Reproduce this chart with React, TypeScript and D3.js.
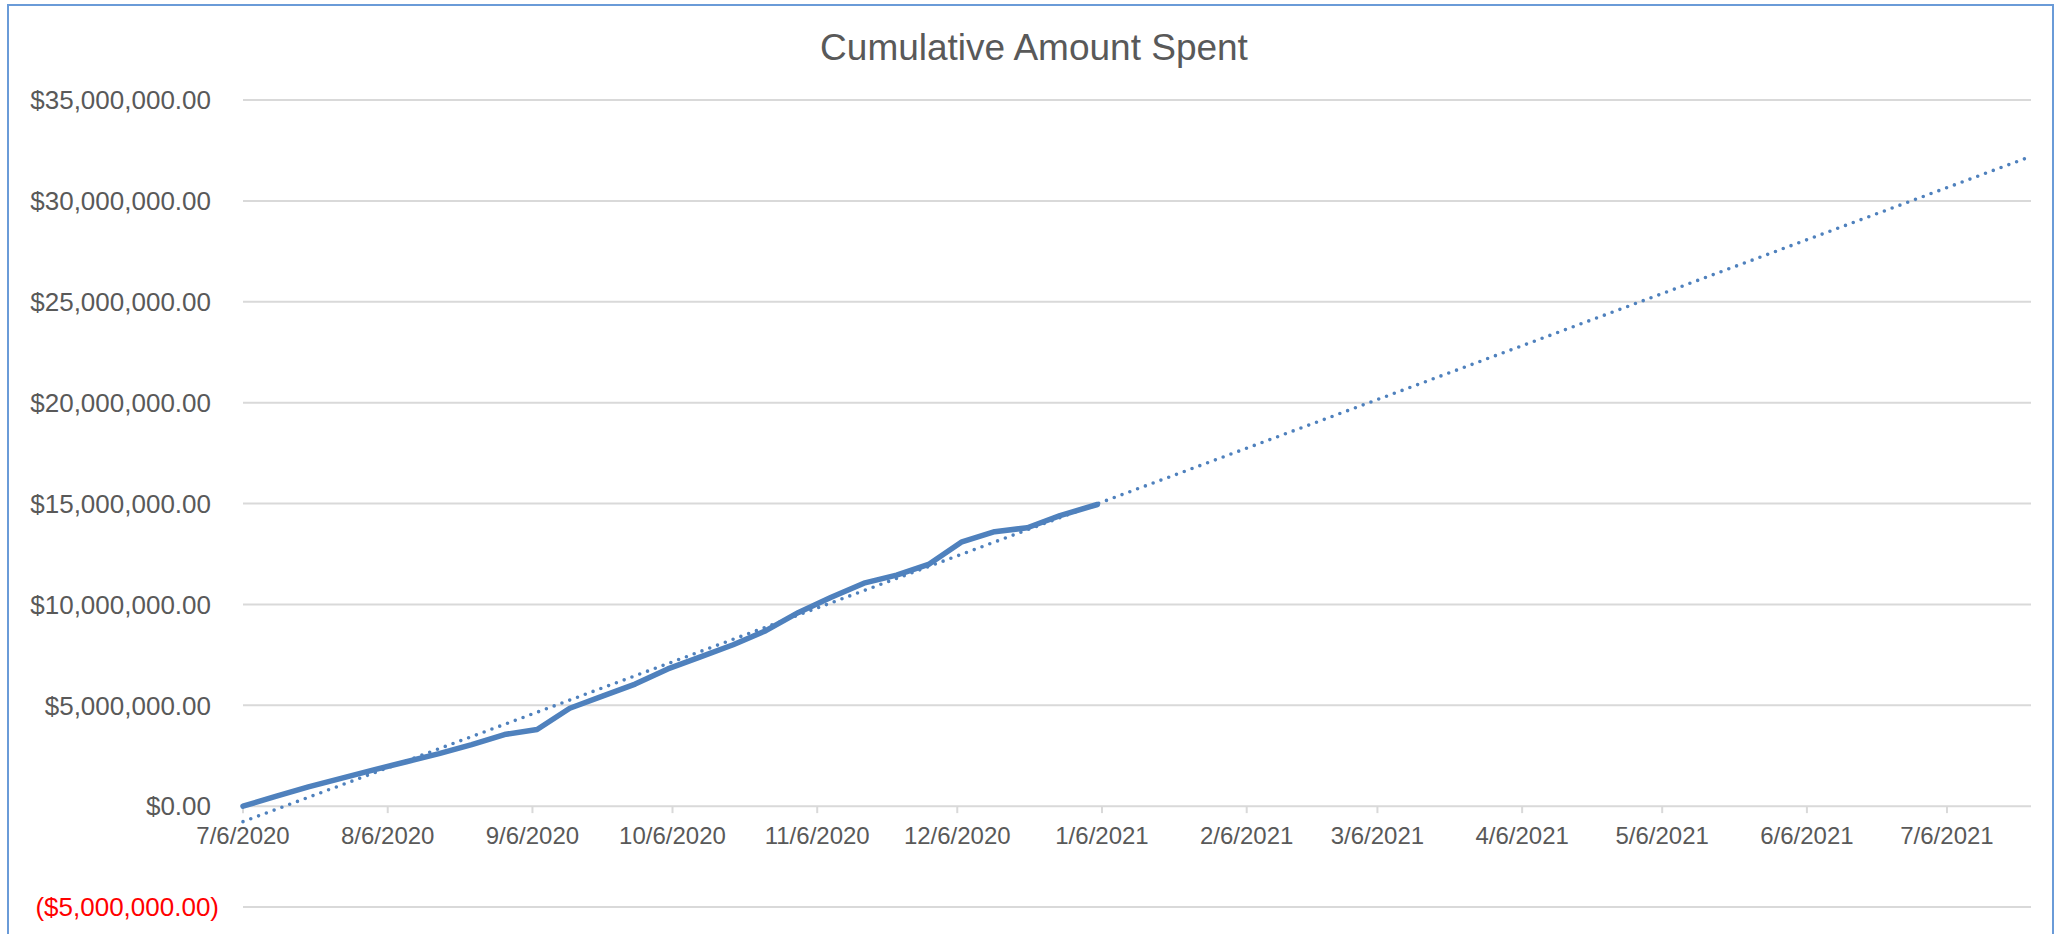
import React from "react";
import * as d3 from "d3";

// weekly cumulative totals
const weekDates = [
  "7/6/2020", "7/13/2020", "7/20/2020", "7/27/2020", "8/3/2020", "8/10/2020",
  "8/17/2020", "8/24/2020", "8/31/2020", "9/7/2020", "9/14/2020", "9/21/2020",
  "9/28/2020", "10/5/2020", "10/12/2020", "10/19/2020", "10/26/2020", "11/2/2020",
  "11/9/2020", "11/16/2020", "11/23/2020", "11/30/2020", "12/7/2020", "12/14/2020",
  "12/21/2020", "12/28/2020", "1/5/2021",
];
const cumulativeSpent = [
  0, 480000, 950000, 1380000, 1800000, 2200000,
  2600000, 3050000, 3550000, 3800000, 4850000, 5450000,
  6050000, 6800000, 7400000, 8000000, 8700000, 9600000,
  10350000, 11050000, 11450000, 12000000, 13100000, 13600000,
  13800000, 14400000, 14950000,
];

// linear trendline (forecast forward)
const trendDates = ["7/6/2020", "7/23/2021"];
const trendValues = [-770000, 32120000];

const xTickLabels = [
  "7/6/2020", "8/6/2020", "9/6/2020", "10/6/2020", "11/6/2020", "12/6/2020",
  "1/6/2021", "2/6/2021", "3/6/2021", "4/6/2021", "5/6/2021", "6/6/2021", "7/6/2021",
];
const yTickValues = [-5000000, 0, 5000000, 10000000, 15000000, 20000000, 25000000, 30000000, 35000000];
const xDomain = ["7/6/2020", "7/24/2021"];

const W = 2056;
const H = 934;
const parse = d3.timeParse("%m/%d/%Y");
const fmtDate = d3.timeFormat("%-m/%-d/%Y");
const money = d3.format(",.2f");
const fmtMoney = (v: number) => (v < 0 ? `($${money(-v)})` : `$${money(v)}`);

const FONT = "'Liberation Sans', Arial, sans-serif";
const BLUE = "#4f81bd";
const GRID = "#d9d9d9";
const TEXT = "#595959";

export default function App() {
  const x = d3
    .scaleTime()
    .domain(xDomain.map((d) => parse(d) as Date))
    .range([243, 2031]);
  const y = d3.scaleLinear().domain([-5000000, 35000000]).range([907, 100]);

  const series = weekDates.map((d, i) => ({ date: parse(d) as Date, value: cumulativeSpent[i] }));
  const trend = trendDates.map((d, i) => ({ date: parse(d) as Date, value: trendValues[i] }));

  const path = d3
    .line<{ date: Date; value: number }>()
    .x((d) => x(d.date))
    .y((d) => y(d.value));

  const xTicks = xTickLabels.map((d) => parse(d) as Date);
  const [x0, x1] = x.range();

  return (
    <svg width={W} height={H} style={{ position: "absolute", left: 0, top: 0, background: "#fff" }}>
      <rect x={8} y={5} width={2045} height={940} fill="#fff" stroke="#6a9bd8" strokeWidth={2} />
      <text x={1034} y={60} textAnchor="middle" fontFamily={FONT} fontSize={37} fill={TEXT}>
        Cumulative Amount Spent
      </text>

      {/* gridlines + y labels */}
      {yTickValues.map((v) => (
        <g key={v}>
          <line x1={x0} x2={x1} y1={y(v)} y2={y(v)} stroke={GRID} strokeWidth={2} />
          <text
            x={v < 0 ? 219 : 211}
            y={y(v)}
            dy="0.36em"
            textAnchor="end"
            fontFamily={FONT}
            fontSize={26}
            fill={v < 0 ? "#ff0000" : TEXT}
          >
            {fmtMoney(v)}
          </text>
        </g>
      ))}

      {/* date axis at zero */}
      {xTicks.map((t) => (
        <g key={+t}>
          <line x1={x(t)} x2={x(t)} y1={y(0)} y2={y(0) + 7} stroke={GRID} strokeWidth={2} />
          <text x={x(t)} y={844} textAnchor="middle" fontFamily={FONT} fontSize={24} fill={TEXT}>
            {fmtDate(t)}
          </text>
        </g>
      ))}

      <path d={path(series) ?? ""} fill="none" stroke={BLUE} strokeWidth={5.5} strokeLinejoin="round" strokeLinecap="round" />
      <path
        d={path(trend) ?? ""}
        fill="none"
        stroke={BLUE}
        strokeWidth={3.6}
        strokeDasharray="0 8.3"
        strokeLinecap="round"
      />
    </svg>
  );
}
